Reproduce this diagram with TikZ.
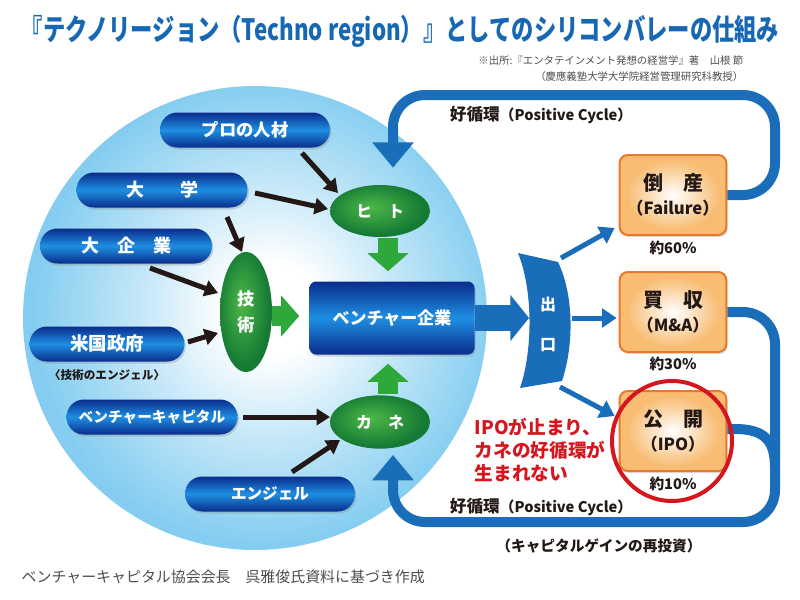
\documentclass[tikz,border=0pt]{standalone}
\usepackage{fontspec}
\usepackage{graphicx}
\setmainfont{Noto Sans CJK JP}
\usetikzlibrary{arrows.meta,shapes.geometric,calc,shadows}
\definecolor{titleblue}{HTML}{1768B4}
\definecolor{pilldark}{HTML}{0A2C8C}
\definecolor{pillmid}{HTML}{1E8FE2}
\definecolor{grdark}{HTML}{147A34}
\definecolor{grlight}{HTML}{4DB848}
\definecolor{arrowgreen}{HTML}{2EA83A}
\definecolor{loopblue}{HTML}{1A6DB8}
\definecolor{skyblue}{HTML}{84CDF0}
\definecolor{skymid}{HTML}{C4E7F8}
\definecolor{orline}{HTML}{E8792A}
\definecolor{orfill}{HTML}{F8BC72}
\definecolor{ipored}{HTML}{D5161F}
\definecolor{txtdark}{HTML}{231815}
\definecolor{graytxt}{HTML}{4D4D4D}
\pgfdeclareradialshading{bigcircle}{\pgfpoint{2bp}{1bp}}{color(0bp)=(white); color(5bp)=(white); color(14bp)=(skymid); color(25bp)=(skyblue); color(50bp)=(skyblue)}
\pgfdeclareradialshading{orbox}{\pgfpoint{0bp}{0bp}}{color(0bp)=(white); color(22bp)=(orfill); color(50bp)=(orfill)}
\pgfdeclareradialshading{greenell}{\pgfpoint{-5bp}{4bp}}{color(0bp)=(grlight); color(25bp)=(grdark); color(50bp)=(grdark)}
\newcommand{\fs}[1]{\fontsize{#1}{#1}\selectfont}
\tikzset{
  pill/.style={rounded corners=13pt, minimum height=26.25pt, inner sep=0pt,
    top color=pilldark, bottom color=pilldark, middle color=pillmid, text=white,
    font=\bfseries\fs{13.5},
    drop shadow={shadow xshift=1pt, shadow yshift=-1.5pt, opacity=0.3}},
  gell/.style={ellipse, shade, shading=greenell, inner sep=0pt, text=white, font=\bfseries\fs{12}},
  orbx/.style={rectangle, rounded corners=6pt, draw=orline, line width=1.5pt, shade, shading=orbox,
    minimum width=80pt, minimum height=60pt, inner sep=0pt, align=center, text=txtdark,
    drop shadow={shadow xshift=1pt, shadow yshift=-1.5pt, opacity=0.25}},
  pct/.style={text=txtdark, font=\bfseries\fs{11}},
  blk/.style={draw=txtdark, line width=3.75pt, -{Triangle[width=12pt,length=10pt]}},
  garrow/.style={draw=arrowgreen, line width=15pt, -{Triangle[width=30pt,length=13.5pt]}},
  bigblue/.style={draw=loopblue, line width=19pt, -{Triangle[width=34pt,length=14pt]}},
  tblue/.style={draw=loopblue, line width=3.75pt, -{Triangle[width=14pt,length=11pt]}},
  loopst/.style={draw=loopblue, line width=7.5pt, rounded corners=24pt},
  looplbl/.style={text=txtdark, font=\bfseries\fs{11}},
}
\begin{document}
\begin{tikzpicture}[x=0.75pt,y=-0.75pt]
\useasboundingbox (0,0) rectangle (800,600);
% title and source
\node[text=titleblue, font=\bfseries\fs{22}] (title) at (400,31)
  {\scalebox{0.76}[1]{『テクノリージョン（Techno region）』としてのシリコンバレーの仕組み}};
\node[anchor=east, text=graytxt, font=\fs{7.8}] (src1) at (748,61) {※出所:『エンタテインメント発想の経営学』著　山根 節};
\node[anchor=east, text=graytxt, font=\fs{7.8}] (src2) at (748,77) {（慶應義塾大学大学院経営管理研究科教授）};

% big circle
\shade[shading=bigcircle] (255,318) circle[radius=232];

% pills
\node[pill, minimum width=127.5pt, font=\bfseries\fs{13}] (pro) at (245,130) {プロの人材};
\node[pill, minimum width=128.25pt] (daigaku) at (162,190) {大　　学};
\node[pill, minimum width=129pt] (daikigyo) at (126,246) {大　企　業};
\node[pill, minimum width=116.25pt, font=\bfseries\fs{13.8}] (beikoku) at (107,344) {米国政府};
\node[text=txtdark, font=\bfseries\fs{8.7}] (tenshi) at (107,375) {〈技術のエンジェル〉};
\node[pill, minimum width=128.25pt, font=\bfseries\fs{11}] (vc) at (152,417) {ベンチャーキャピタル};
\node[pill, minimum width=127.5pt, font=\bfseries\fs{11.7}] (angel) at (270,494) {エンジェル};

% green ellipses
\node[gell, minimum width=75pt, minimum height=39pt] (hito) at (380,211) {ヒ　ト};
\node[gell, minimum width=39pt, minimum height=90pt, align=center, font=\bfseries\fs{13}] (gijutsu) at (246,312) {技\\[6pt]術};
\node[gell, minimum width=75pt, minimum height=40pt] (kane) at (380,422) {カ　ネ};

% venture box
\node[rounded corners=5pt, minimum width=123.75pt, minimum height=54.75pt, inner sep=0pt,
  top color=pilldark, bottom color=pilldark, middle color=pillmid, text=white,
  font=\bfseries\fs{12.75}, drop shadow={shadow xshift=1pt, shadow yshift=-1.5pt, opacity=0.3}]
  (venture) at (392,318) {ベンチャー企業};

% black arrows
\draw[blk] ($(pro)+(57,23)$) -- ($(hito)+(-42,-18)$);
\draw[blk] ($(daigaku)+(93,3)$) -- ($(hito)+(-52,-2)$);
\draw[blk] ($(daigaku)+(65,27)$) -- ($(gijutsu)+(-4,-60)$);
\draw[blk] ($(daikigyo)+(24,22)$) -- ($(gijutsu)+(-28,-19)$);
\draw[blk] ($(beikoku)+(81,-2)$) -- ($(gijutsu)+(-28,21)$);
\draw[blk] ($(vc)+(91,0)$) -- ($(kane)+(-50,-5)$);
\draw[blk] ($(angel)+(22,-22)$) -- ($(kane)+(-40,18)$);

% green arrows
\draw[garrow] ($(hito.south)+(8,1)$) -- ($(venture.north)+(-4,-10)$);
\draw[garrow] ($(gijutsu.east)+(0,4)$) -- ($(venture.west)+(-10,-2)$);
\draw[garrow] ($(kane.north)+(8,-1)$) -- ($(venture.south)+(-4,9)$);

% exit shape
\fill[loopblue] (518,253) -- (558,262) .. controls (574,295) and (574,345) .. (562,381)
  -- (520,388) .. controls (533,350) and (533,290) .. (518,253) -- cycle;
\node[text=white, font=\bfseries\fs{12}] (de) at (548,305) {出};
\node[text=white, font=\bfseries\fs{12}] (kuchi) at (548,345) {口};
\coordinate (exitTop) at (561,258);
\coordinate (exitMid) at (572,318);
\coordinate (exitBot) at (560,387);
\coordinate (exitIn) at (529,318);
\draw[bigblue] (venture.east) -- (exitIn);

% orange boxes
\node[orbx] (tosan) at (673,195) {{\bfseries\fs{15}倒　産}\\[5pt]{\bfseries\fs{12.5}（Failure）}};
\node[orbx] (baishu) at (673,312) {{\bfseries\fs{15}買　収}\\[5pt]{\bfseries\fs{12.5}（M\&A）}};
\node[orbx] (koukai) at (673,431) {{\bfseries\fs{15}公　開}\\[5pt]{\bfseries\fs{12.5}（IPO）}};
\node[pct] (p60) at (673,248) {約60\%};
\node[pct] (p30) at (673,364) {約30\%};
\node[pct] (p10) at (673,484) {約10\%};

% exit arrows
\draw[tblue] (exitTop) -- ($(tosan.south west)+(-4,-8)$);
\draw[tblue] (exitMid) -- ($(baishu.west)+(-2,6)$);
\draw[tblue] (exitBot) -- ($(koukai.west)+(-4,-15)$);

% loops
\draw[loopst, -{Triangle[width=30pt,length=19pt]}] (tosan.east) -- (775,195) -- (775,95) -- (393,95) -- ($(hito.north)+(13,-17)$);
\draw[loopst, rounded corners=0pt] (koukai.east |- 0,429) -- (735,429) .. controls (766,429) and (775,442) .. (775,468);
\draw[loopst, -{Triangle[width=30pt,length=19pt]}] (baishu.east) -- (775,312) -- (775,522) -- (393,522) -- ($(kane.south)+(13,6)$);
\node[looplbl] (lbl1) at (541,115) {{\fs{12.5}好循環}（Positive Cycle）};
\node[looplbl] (lbl2) at (541,507) {{\fs{12.5}好循環}（Positive Cycle）};
\node[looplbl] (lbl3) at (599,546) {（キャピタルゲインの再投資）};

% red circle and text
\draw[ipored, line width=3pt] (672,441) circle[radius=60];
\node[anchor=west, align=left, text=ipored, font=\bfseries\fontsize{14}{17}\selectfont] (redtxt) at (470,450) {IPOが止まり、\\カネの好循環が\\生まれない};

% footer
\node[anchor=west, text=graytxt, font=\fs{11.2}] (foot) at (17,577) {ベンチャーキャピタル協会会長　呉雅俊氏資料に基づき作成};
\end{tikzpicture}
\end{document}
